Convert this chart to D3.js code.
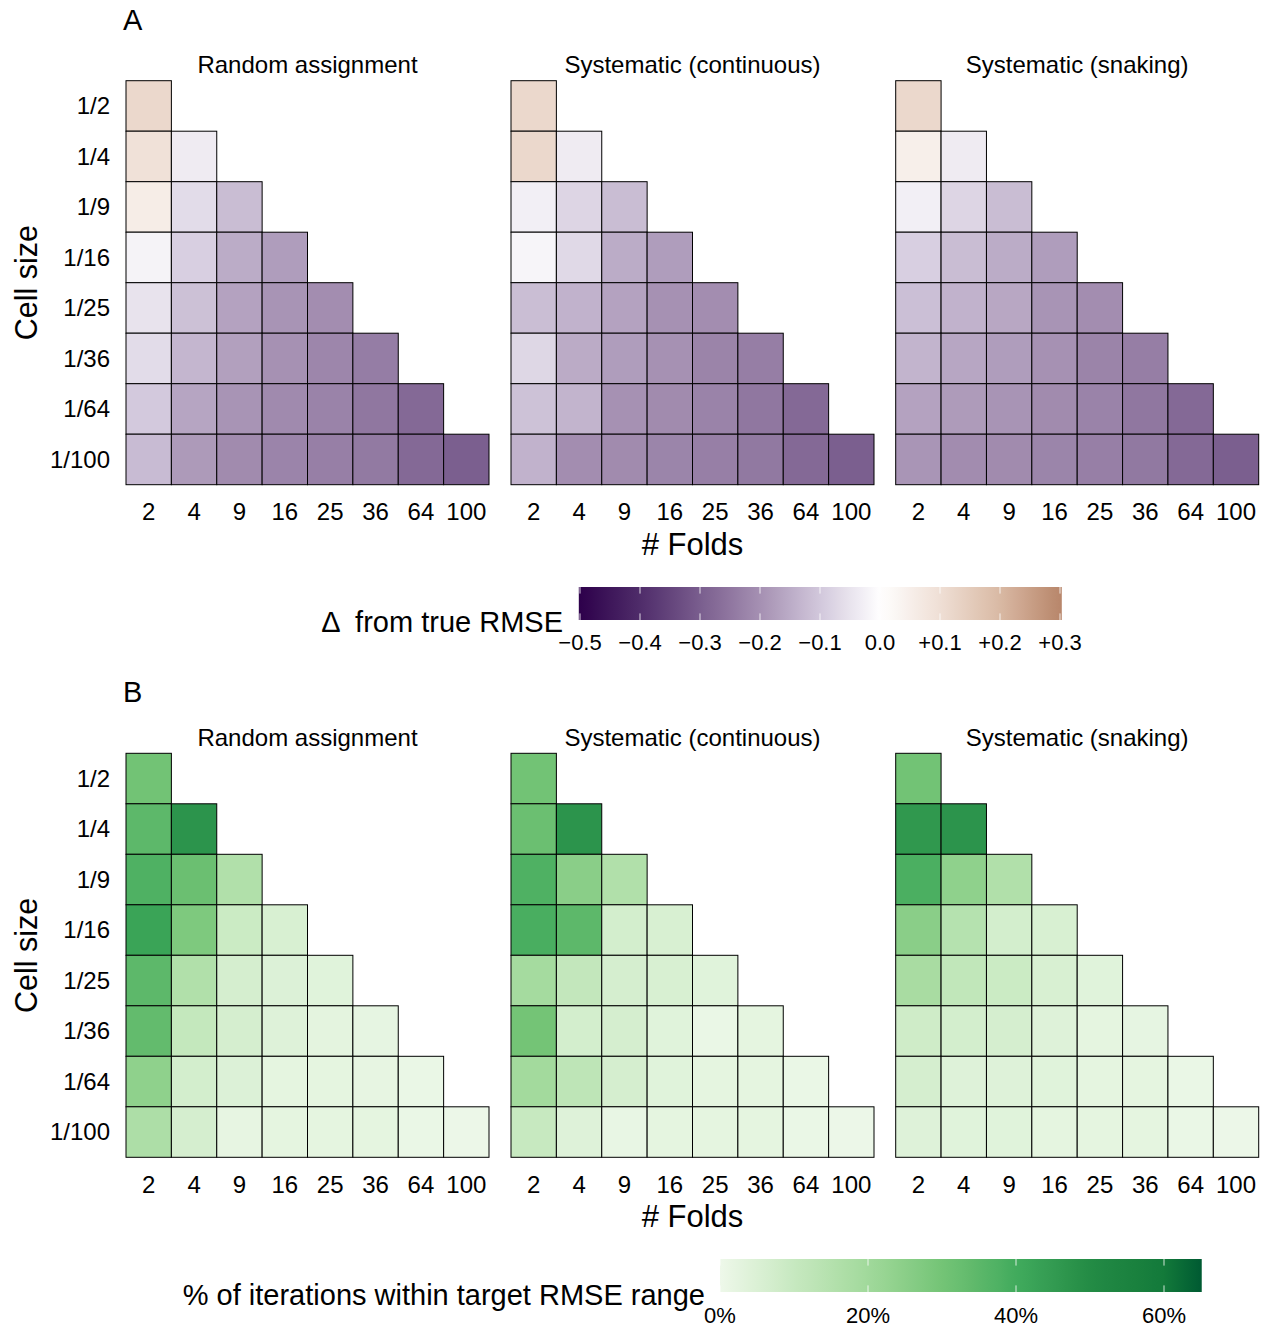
<!DOCTYPE html>
<html>
<head>
<meta charset="utf-8">
<script src="https://cdn.jsdelivr.net/npm/d3@7"></script>
<style>
  body { margin: 0; background: #fff; }
  svg { display: block; font-family: "Liberation Sans", Arial, Helvetica, sans-serif; }
</style>
</head>
<body>
<svg id="chart" width="1267" height="1328"></svg>
<script>
// ---------------- data ----------------
const folds = ["2", "4", "9", "16", "25", "36", "64", "100"];
const cellSizes = ["1/2", "1/4", "1/9", "1/16", "1/25", "1/36", "1/64", "1/100"];
const methods = ["Random assignment", "Systematic (continuous)", "Systematic (snaking)"];

// Panel A: difference from true RMSE (row = cell size, column = folds)
const deltaRandom = [
  [0.118],
  [0.093, -0.036],
  [0.057, -0.064, -0.120],
  [-0.022, -0.087, -0.150, -0.177],
  [-0.051, -0.113, -0.167, -0.193, -0.205],
  [-0.064, -0.131, -0.171, -0.198, -0.219, -0.237],
  [-0.098, -0.162, -0.193, -0.212, -0.226, -0.249, -0.277],
  [-0.122, -0.182, -0.210, -0.223, -0.233, -0.244, -0.277, -0.298]
];
const deltaContinuous = [
  [0.118],
  [0.118, -0.036],
  [-0.029, -0.076, -0.120],
  [-0.018, -0.069, -0.150, -0.177],
  [-0.118, -0.138, -0.167, -0.198, -0.205],
  [-0.073, -0.151, -0.177, -0.198, -0.224, -0.235],
  [-0.111, -0.136, -0.198, -0.210, -0.226, -0.249, -0.277],
  [-0.138, -0.205, -0.210, -0.222, -0.233, -0.246, -0.277, -0.298]
];
const deltaSnaking = [
  [0.118],
  [0.050, -0.036],
  [-0.029, -0.076, -0.120],
  [-0.087, -0.120, -0.150, -0.177],
  [-0.115, -0.138, -0.158, -0.193, -0.205],
  [-0.136, -0.160, -0.177, -0.198, -0.224, -0.235],
  [-0.167, -0.180, -0.193, -0.210, -0.226, -0.249, -0.277],
  [-0.190, -0.208, -0.210, -0.222, -0.233, -0.246, -0.277, -0.298]
];

// Panel B: share of iterations within target RMSE range
const withinRandom = [
  [0.305],
  [0.347, 0.470],
  [0.375, 0.320, 0.158],
  [0.423, 0.278, 0.090, 0.056],
  [0.347, 0.158, 0.064, 0.046, 0.036],
  [0.335, 0.107, 0.064, 0.041, 0.025, 0.020],
  [0.240, 0.069, 0.046, 0.023, 0.023, 0.018, 0.010],
  [0.168, 0.064, 0.018, 0.023, 0.023, 0.023, 0.010, 0.005]
];
const withinContinuous = [
  [0.305],
  [0.320, 0.470],
  [0.375, 0.251, 0.158],
  [0.386, 0.347, 0.069, 0.056],
  [0.190, 0.110, 0.064, 0.056, 0.036],
  [0.300, 0.069, 0.064, 0.036, 0.010, 0.023],
  [0.195, 0.124, 0.064, 0.036, 0.023, 0.023, 0.010],
  [0.100, 0.040, 0.015, 0.023, 0.023, 0.023, 0.010, 0.005]
];
const withinSnaking = [
  [0.305],
  [0.460, 0.470],
  [0.383, 0.240, 0.158],
  [0.251, 0.147, 0.069, 0.056],
  [0.180, 0.115, 0.090, 0.056, 0.036],
  [0.080, 0.069, 0.064, 0.041, 0.023, 0.020],
  [0.064, 0.041, 0.041, 0.036, 0.023, 0.023, 0.010],
  [0.041, 0.036, 0.036, 0.023, 0.023, 0.023, 0.010, 0.005]
];

const deltaTicks = [-0.5, -0.4, -0.3, -0.2, -0.1, 0.0, 0.1, 0.2, 0.3];
const deltaTickLabels = ["\u22120.5", "\u22120.4", "\u22120.3", "\u22120.2", "\u22120.1", "0.0", "+0.1", "+0.2", "+0.3"];
const pctTicks = [0, 0.2, 0.4, 0.6];
const pctTickLabels = ["0%", "20%", "40%", "60%"];

// colour stops
const deltaStops = [-0.5, -0.4, -0.3, -0.2, -0.1, 0, 0.1, 0.2, 0.3];
const deltaColors = ["#2d004b", "#4f2c6a", "#7a5e8e", "#a590b2", "#d2c8dc", "#ffffff", "#efdfd5", "#d9b9a4", "#b8866b"];
const pctStops = [0, 0.1, 0.2, 0.3, 0.4, 0.5, 0.6, 0.65];
const pctColors = ["#eef8ea", "#c7e9c0", "#a1d99b", "#74c476", "#41ab5d", "#238b45", "#137a3a", "#005a32"];

// ---------------- drawing ----------------
const svg = d3.select("#chart");
const FONT_TICK = 24;

const deltaColor = d3.scaleLinear().domain(deltaStops).range(deltaColors).interpolate(d3.interpolateLab).clamp(true);
const pctColor = d3.scaleLinear().domain(pctStops).range(pctColors).interpolate(d3.interpolateLab).clamp(true);

const panelX0 = [126, 511, 895.7];
const panelW = 363;
const panelH = 404;

function drawSection(top, letter, datasets, colorScale) {
  svg.append("text").attr("x", 123).attr("y", top - 51)
    .attr("font-size", 29).text(letter);

  datasets.forEach((data, p) => {
    const x = d3.scaleBand().domain(folds).range([panelX0[p], panelX0[p] + panelW]);
    const y = d3.scaleBand().domain(cellSizes).range([top, top + panelH]);
    const g = svg.append("g");

    svg.append("text")
      .attr("x", panelX0[p] + panelW / 2).attr("y", top - 7.5)
      .attr("text-anchor", "middle").attr("font-size", FONT_TICK)
      .text(methods[p]);

    const cells = [];
    data.forEach((row, i) => row.forEach((v, j) => cells.push({ r: cellSizes[i], c: folds[j], v })));
    g.selectAll("rect").data(cells).join("rect")
      .attr("x", d => x(d.c)).attr("y", d => y(d.r))
      .attr("width", x.bandwidth()).attr("height", y.bandwidth())
      .attr("fill", d => colorScale(d.v))
      .attr("stroke", "#000").attr("stroke-width", 1);

    const xa = svg.append("g").attr("transform", `translate(0,${top + panelH})`)
      .call(d3.axisBottom(x).tickSize(0).tickPadding(18.5));
    xa.select(".domain").remove();
    xa.selectAll("text").attr("font-size", FONT_TICK).attr("fill", "#000")
      .attr("font-family", "Liberation Sans, Arial, sans-serif");

    if (p === 0) {
      const ya = svg.append("g").attr("transform", `translate(${panelX0[0]},0)`)
        .call(d3.axisLeft(y).tickSize(0).tickPadding(16));
      ya.select(".domain").remove();
      ya.selectAll("text").attr("font-size", FONT_TICK).attr("fill", "#000").attr("dy", "0.35em")
        .attr("font-family", "Liberation Sans, Arial, sans-serif");
    }
  });

  svg.append("text").attr("x", panelX0[1] + panelW / 2).attr("y", top + panelH + 70)
    .attr("text-anchor", "middle").attr("font-size", 31).text("# Folds");
  svg.append("text")
    .attr("transform", `translate(37,${top + panelH / 2}) rotate(-90)`)
    .attr("text-anchor", "middle").attr("font-size", 30.5).text("Cell size");
}

drawSection(80.7, "A", [deltaRandom, deltaContinuous, deltaSnaking], deltaColor);
drawSection(753.3, "B", [withinRandom, withinContinuous, withinSnaking], pctColor);

// ---------------- legends ----------------
const defs = svg.append("defs");
function colorbar(id, scale, lo, hi, range, barTop, barH, ticks, labels, labelY, labelSize) {
  const lx = d3.scaleLinear().domain([ticks[0], ticks[ticks.length - 1]]).range(range);
  const x0 = lx(lo), x1 = lx(hi);
  const grad = defs.append("linearGradient").attr("id", id).attr("x1", "0%").attr("x2", "100%");
  d3.range(0, 1.0001, 0.02).forEach(t => {
    grad.append("stop").attr("offset", (t * 100) + "%").attr("stop-color", scale(lo + t * (hi - lo)));
  });
  svg.append("rect").attr("x", x0).attr("y", barTop).attr("width", x1 - x0).attr("height", barH)
    .attr("fill", `url(#${id})`);
  const tl = barH / 5;
  ticks.forEach(t => {
    svg.append("line").attr("x1", lx(t)).attr("x2", lx(t)).attr("y1", barTop).attr("y2", barTop + tl)
      .attr("stroke", "#fff").attr("stroke-opacity", 0.8);
    svg.append("line").attr("x1", lx(t)).attr("x2", lx(t)).attr("y1", barTop + barH - tl).attr("y2", barTop + barH)
      .attr("stroke", "#fff").attr("stroke-opacity", 0.8);
  });
  svg.append("g").selectAll("text").data(ticks).join("text")
    .attr("x", d => lx(d)).attr("y", labelY)
    .attr("text-anchor", "middle").attr("font-size", labelSize)
    .text((d, i) => labels[i]);
}

colorbar("gradDelta", deltaColor, -0.502, 0.303, [580, 1060], 587, 33, deltaTicks, deltaTickLabels, 649.5, 22);
svg.append("text").attr("x", 563).attr("y", 631.5).attr("text-anchor", "end")
  .attr("font-size", 29).attr("xml:space", "preserve").style("white-space", "pre")
  .text("\u0394  from true RMSE");

colorbar("gradPct", pctColor, 0, 0.651, [720, 1164], 1259, 33, pctTicks, pctTickLabels, 1322.5, 22);
svg.append("text").attr("x", 705).attr("y", 1304.5).attr("text-anchor", "end")
  .attr("font-size", 29).text("% of iterations within target RMSE range");
</script>
</body>
</html>
